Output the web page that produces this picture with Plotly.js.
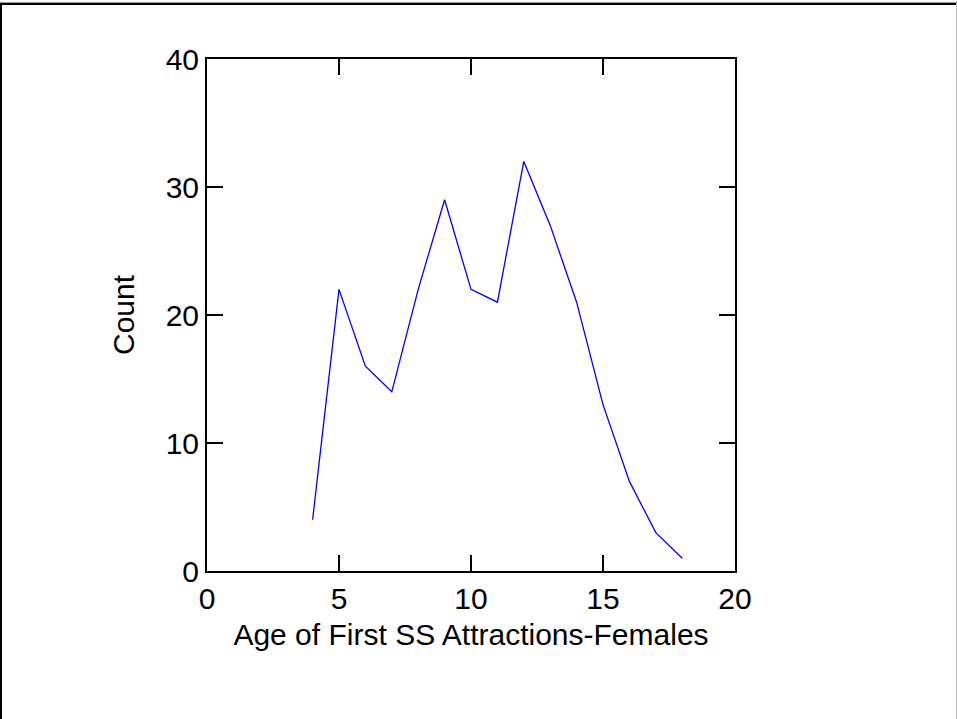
<!DOCTYPE html>
<html>
<head>
<meta charset="utf-8">
<script src="https://cdn.plot.ly/plotly-3.0.1.min.js"></script>
<style>
  html, body { margin: 0; padding: 0; background: #fff; }
  #wrap { position: relative; width: 957px; height: 719px; overflow: hidden; }
  #chart { position: absolute; left: 0; top: 0; width: 957px; height: 719px; }
  .edge { position: absolute; pointer-events: none; }
  #edgeLeft { left: 0; top: 3px; width: 2px; height: 716px; background: #000; }
  #edgeTop { left: 0; top: 3px; width: 957px; height: 2px; background: #000; }
  #edgeTopShade { left: 0; top: 2px; width: 957px; height: 1px; background: #999; }
  #edgeRight { left: 956px; top: 3px; width: 1px; height: 716px; background: #bbb; }
</style>
</head>
<body>
<div id="wrap">
  <div id="chart"></div>
  <div class="edge" id="edgeTopShade"></div>
  <div class="edge" id="edgeTop"></div>
  <div class="edge" id="edgeLeft"></div>
  <div class="edge" id="edgeRight"></div>
</div>
<script>
// Age at first same-sex attraction (females) and number of respondents
const ages = [4, 5, 6, 7, 8, 9, 10, 11, 12, 13, 14, 15, 16, 17, 18];
const counts = [4, 22, 16, 14, 22, 29, 22, 21, 32, 27, 21, 13, 7, 3, 1];

const xTicks = [0, 5, 10, 15, 20];
const yTicks = [0, 10, 20, 30, 40];

const fontFamily = '"Liberation Sans", Arial, sans-serif';

const axisCommon = {
  showgrid: false,
  zeroline: false,
  showline: true,
  linecolor: '#000',
  linewidth: 2,
  mirror: 'ticks',
  ticks: 'inside',
  ticklen: 16,
  tickwidth: 2,
  tickcolor: '#000',
  tickmode: 'array',
  tickfont: { family: fontFamily, size: 30, color: '#000' },
  fixedrange: true
};

const trace = {
  x: ages,
  y: counts,
  type: 'scatter',
  mode: 'lines',
  line: { color: '#0000ff', width: 1.3 },
  hoverinfo: 'skip'
};

const layout = {
  width: 957,
  height: 719,
  margin: { l: 207, r: 222, t: 59, b: 148 },
  paper_bgcolor: 'rgba(0,0,0,0)',
  plot_bgcolor: '#fff',
  showlegend: false,
  xaxis: Object.assign({}, axisCommon, {
    range: [0, 20],
    tickvals: xTicks,
    ticktext: xTicks.map(String),
    title: { text: 'Age of First SS Attractions-Females', font: { family: fontFamily, size: 30, color: '#000' }, standoff: 10 }
  }),
  yaxis: Object.assign({}, axisCommon, {
    range: [0, 40],
    tickvals: yTicks,
    ticktext: yTicks.map(String),
    title: { text: 'Count', font: { family: fontFamily, size: 30, color: '#000' }, standoff: 22 }
  })
};

Plotly.newPlot('chart', [trace], layout, { displayModeBar: false, staticPlot: true });
</script>
</body>
</html>
